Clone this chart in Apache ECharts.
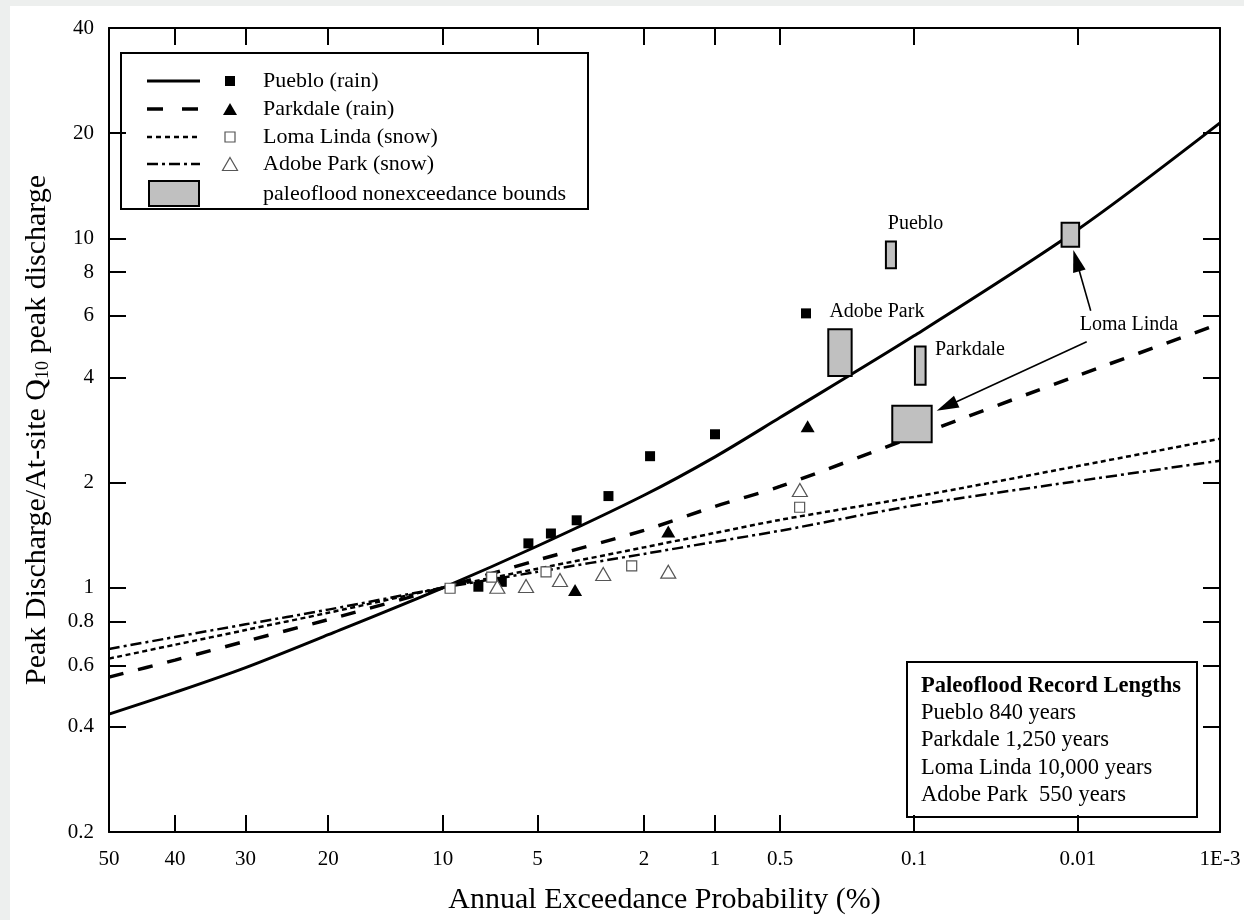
<!DOCTYPE html>
<html>
<head>
<meta charset="utf-8">
<script src="https://cdn.jsdelivr.net/npm/echarts/dist/echarts.min.js"></script>
<style>
html,body{margin:0;padding:0;background:#fff;}
#chart{width:1244px;height:920px;}
</style>
</head>
<body>
<div id="chart"></div>
<script>
// ---------------- DATA ----------------
const probTicks = [50, 40, 30, 20, 10, 5, 2, 1, 0.5, 0.1, 0.01, 0.001];
const probTickLabels = ['50', '40', '30', '20', '10', '5', '2', '1', '0.5', '0.1', '0.01', '1E-3'];
const valueTicks = [0.2, 0.4, 0.6, 0.8, 1, 2, 4, 6, 8, 10, 20, 40];
const valueTickLabels = ['0.2', '0.4', '0.6', '0.8', '1', '2', '4', '6', '8', '10', '20', '40'];

// fitted frequency curves (exceedance probability %, ratio to Q10)
const curveProbs = [50, 40, 30, 20, 10, 5, 2, 1, 0.5, 0.1, 0.01, 0.001];
const puebloCurve = [0.435, 0.502, 0.591, 0.734, 1.0, 1.317, 1.84, 2.37, 3.07, 5.26, 10.6, 21.4];
const parkdaleCurve = [0.555, 0.621, 0.703, 0.811, 1.0, 1.20, 1.46, 1.71, 1.95, 2.71, 4.05, 5.7];
const lomaLindaCurve = [0.627, 0.687, 0.757, 0.848, 1.0, 1.134, 1.305, 1.435, 1.564, 1.82, 2.23, 2.67];
const adobeParkCurve = [0.668, 0.723, 0.786, 0.866, 1.0, 1.111, 1.25, 1.354, 1.456, 1.72, 2.02, 2.31];

// observed peaks
const puebloObsProb = [7.81, 6.58, 5.37, 4.49, 3.63, 2.76, 1.89, 1.0, 0.373];
const puebloObsValue = [1.007, 1.04, 1.34, 1.43, 1.56, 1.83, 2.38, 2.75, 6.1];
const parkdaleObsProb = [3.68, 1.59, 0.366];
const parkdaleObsValue = [0.985, 1.45, 2.90];
const lomaLindaObsProb = [9.52, 7.09, 4.67, 2.24, 0.401];
const lomaLindaObsValue = [0.997, 1.072, 1.11, 1.155, 1.70];
const adobeParkObsProb = [6.8, 5.47, 4.17, 2.89, 1.59, 0.40];
const adobeParkObsValue = [1.007, 1.012, 1.053, 1.095, 1.112, 1.905];

// paleoflood nonexceedance bounds
const boxNames = ['Pueblo', 'Adobe Park', 'Parkdale', 'Loma Linda', 'Loma Linda'];
const boxProbHigh = [0.143, 0.288, 0.0988, 0.132, 0.01277];
const boxProbLow = [0.126, 0.218, 0.0860, 0.0794, 0.0098];
const boxValueLow = [8.21, 4.04, 3.81, 2.61, 9.47];
const boxValueHigh = [9.79, 5.49, 4.90, 3.32, 11.09];

// annotations
const noteTexts = ['Pueblo', 'Adobe Park', 'Parkdale', 'Loma Linda'];
const noteProbs = [0.098, 0.16, 0.076, 0.00451];
const noteValues = [11.0, 6.16, 4.79, 5.65];
const noteAlign = ['center', 'center', 'left', 'center'];

const arrowFromProb = [0.00821, 0.00873];
const arrowFromValue = [6.21, 5.06];
const arrowToProb = [0.0107, 0.0743];
const arrowToValue = [9.26, 3.21];

const legendNames = ['Pueblo (rain)', 'Parkdale (rain)', 'Loma Linda (snow)', 'Adobe Park (snow)', 'paleoflood nonexceedance bounds'];
const recordTitle = 'Paleoflood Record Lengths';
const recordLines = ['Pueblo 840 years', 'Parkdale 1,250 years', 'Loma Linda 10,000 years', 'Adobe Park  550 years'];

// ---------------- SCALE (normal probability) ----------------
function normInv(p) {
  const a = [-3.969683028665376e+01, 2.209460984245205e+02, -2.759285104469687e+02, 1.383577518672690e+02, -3.066479806614716e+01, 2.506628277459239e+00];
  const b = [-5.447609879822406e+01, 1.615858368580409e+02, -1.556989798598866e+02, 6.680131188771972e+01, -1.328068155288572e+01];
  const c = [-7.784894002430293e-03, -3.223964580411365e-01, -2.400758277161838e+00, -2.549732539343734e+00, 4.374664141464968e+00, 2.938163982698783e+00];
  const d = [7.784695709041462e-03, 3.224671290700398e-01, 2.445134137142996e+00, 3.754408661907416e+00];
  const plow = 0.02425, phigh = 1 - plow;
  let q, r;
  if (p < plow) {
    q = Math.sqrt(-2 * Math.log(p));
    return (((((c[0]*q+c[1])*q+c[2])*q+c[3])*q+c[4])*q+c[5]) / ((((d[0]*q+d[1])*q+d[2])*q+d[3])*q+1);
  }
  if (p <= phigh) {
    q = p - 0.5; r = q * q;
    return (((((a[0]*r+a[1])*r+a[2])*r+a[3])*r+a[4])*r+a[5])*q / (((((b[0]*r+b[1])*r+b[2])*r+b[3])*r+b[4])*r+1);
  }
  q = Math.sqrt(-2 * Math.log(1 - p));
  return -(((((c[0]*q+c[1])*q+c[2])*q+c[3])*q+c[4])*q+c[5]) / ((((d[0]*q+d[1])*q+d[2])*q+d[3])*q+1);
}
function toZ(pct) { return pct === 50 ? 0 : -normInv(pct / 100); }

const zTicks = probTicks.map(toZ);
const zMin = toZ(50), zMax = toZ(0.001);

function xLabel(v) {
  for (let i = 0; i < zTicks.length; i++) if (Math.abs(zTicks[i] - v) < 1e-6) return probTickLabels[i];
  return '';
}
function yLabel(v) {
  for (let i = 0; i < valueTicks.length; i++) if (Math.abs(valueTicks[i] - v) / valueTicks[i] < 1e-4) return valueTickLabels[i];
  return '';
}

const FONT = '"Liberation Serif", "Times New Roman", serif';

function pairs(ps, vs) { return ps.map((p, i) => [toZ(p), vs[i]]); }

const axisLineStyle = { color: '#000', width: 2 };
const tickStyle = { color: '#000', width: 2 };

function legendText(y, s) {
  return { type: 'text', x: 263, y: y, style: { text: s, font: '22px ' + FONT, fill: '#000', verticalAlign: 'middle', textVerticalAlign: 'middle' } };
}
function recText(y, s, bold) {
  return { type: 'text', x: 921, y: y, style: { text: s, font: (bold ? 'bold ' : '') + '22.5px ' + FONT, fill: '#000', verticalAlign: 'middle', textVerticalAlign: 'middle' } };
}

const option = {
  animation: false,
  backgroundColor: '#fff',
  grid: { left: 109, right: 24, top: 28, bottom: 88, containLabel: false },
  xAxis: [
    {
      type: 'value', min: zMin, max: zMax, position: 'bottom',
      axisLine: { onZero: false, lineStyle: axisLineStyle },
      axisTick: { show: true, inside: true, length: 17, lineStyle: tickStyle, customValues: zTicks },
      axisLabel: { show: true, customValues: zTicks, formatter: xLabel, margin: 17, color: '#000', fontFamily: FONT, fontSize: 21 },
      splitLine: { show: false },
      name: 'Annual Exceedance Probability (%)', nameLocation: 'middle', nameGap: 53,
      nameTextStyle: { fontFamily: FONT, fontSize: 30, color: '#000' }
    },
    {
      type: 'value', min: zMin, max: zMax, position: 'top',
      axisLine: { onZero: false, lineStyle: axisLineStyle },
      axisTick: { show: true, inside: true, length: 17, lineStyle: tickStyle, customValues: zTicks },
      axisLabel: { show: false, customValues: zTicks },
      splitLine: { show: false }
    }
  ],
  yAxis: [
    {
      type: 'log', logBase: 10, min: 0.2, max: 40, position: 'left',
      axisLine: { onZero: false, lineStyle: axisLineStyle },
      axisTick: { show: true, inside: true, length: 17, lineStyle: tickStyle, customValues: valueTicks },
      axisLabel: { show: true, customValues: valueTicks, formatter: yLabel, margin: 15, color: '#000', fontFamily: FONT, fontSize: 21 },
      splitLine: { show: false },
      name: 'Peak Discharge/At-site Q{sub|10} peak discharge', nameLocation: 'middle', nameGap: 57, nameRotate: 90,
      nameTextStyle: {
        fontFamily: FONT, fontSize: 30, color: '#000', lineHeight: 30,
        rich: { sub: { fontFamily: FONT, fontSize: 18, color: '#000', verticalAlign: 'bottom', padding: [19, 0, 0, 0] } }
      }
    },
    {
      type: 'log', logBase: 10, min: 0.2, max: 40, position: 'right',
      axisLine: { onZero: false, lineStyle: axisLineStyle },
      axisTick: { show: true, inside: true, length: 17, lineStyle: tickStyle, customValues: valueTicks },
      axisLabel: { show: false, customValues: valueTicks },
      splitLine: { show: false }
    }
  ],
  series: [
    { name: 'Pueblo curve', type: 'line', data: pairs(curveProbs, puebloCurve), showSymbol: false, smooth: 0.3,
      lineStyle: { color: '#000', width: 3, type: 'solid' }, z: 2 },
    { name: 'Parkdale curve', type: 'line', data: pairs(curveProbs, parkdaleCurve), showSymbol: false, smooth: 0.3,
      lineStyle: { color: '#000', width: 3.5, type: [15, 15] }, z: 2 },
    { name: 'Loma Linda curve', type: 'line', data: pairs(curveProbs, lomaLindaCurve), showSymbol: false, smooth: 0.3,
      lineStyle: { color: '#000', width: 2.5, type: [5, 3.5] }, z: 2 },
    { name: 'Adobe Park curve', type: 'line', data: pairs(curveProbs, adobeParkCurve), showSymbol: false, smooth: 0.3,
      lineStyle: { color: '#000', width: 2.5, type: [11, 4, 3, 4] }, z: 2 },

    { name: 'Pueblo (rain)', type: 'scatter', data: pairs(puebloObsProb, puebloObsValue), symbol: 'rect', symbolSize: 10,
      itemStyle: { color: '#000', opacity: 1 }, z: 4 },
    { name: 'Parkdale (rain)', type: 'scatter', data: pairs(parkdaleObsProb, parkdaleObsValue), symbol: 'triangle', symbolSize: [14, 12],
      itemStyle: { color: '#000', opacity: 1 }, z: 4 },
    { name: 'Loma Linda (snow)', type: 'scatter', data: pairs(lomaLindaObsProb, lomaLindaObsValue), symbol: 'rect', symbolSize: 10,
      itemStyle: { color: '#fff', borderColor: '#555', borderWidth: 1.2, opacity: 1 }, z: 4 },
    { name: 'Adobe Park (snow)', type: 'scatter', data: pairs(adobeParkObsProb, adobeParkObsValue), symbol: 'triangle', symbolSize: [15, 13],
      itemStyle: { color: '#fff', borderColor: '#555', borderWidth: 1.2, opacity: 1 }, z: 4 },

    { name: 'paleoflood boxes', type: 'custom', z: 5,
      data: boxNames.map((n, i) => [toZ(boxProbHigh[i]), toZ(boxProbLow[i]), boxValueLow[i], boxValueHigh[i]]),
      encode: { x: [0, 1], y: [2, 3] },
      renderItem: function (params, api) {
        const p1 = api.coord([api.value(0), api.value(2)]);
        const p2 = api.coord([api.value(1), api.value(3)]);
        return { type: 'rect',
          shape: { x: Math.min(p1[0], p2[0]), y: Math.min(p1[1], p2[1]), width: Math.abs(p2[0] - p1[0]), height: Math.abs(p2[1] - p1[1]) },
          style: { fill: '#c0c0c0', stroke: '#000', lineWidth: 2 } };
      }
    },
    { name: 'notes', type: 'custom', z: 6,
      data: noteTexts.map((t, i) => [toZ(noteProbs[i]), noteValues[i]]),
      encode: { x: 0, y: 1 },
      renderItem: function (params, api) {
        const p = api.coord([api.value(0), api.value(1)]);
        const i = params.dataIndex;
        return { type: 'text', x: p[0], y: p[1],
          style: { text: noteTexts[i], font: '20px ' + FONT, fill: '#000', align: noteAlign[i], verticalAlign: 'middle' } };
      }
    },
    { name: 'arrows', type: 'custom', z: 6,
      data: arrowFromProb.map((p, i) => [toZ(p), arrowFromValue[i], toZ(arrowToProb[i]), arrowToValue[i]]),
      encode: { x: [0, 2], y: [1, 3] },
      renderItem: function (params, api) {
        const a = api.coord([api.value(0), api.value(1)]);
        const b = api.coord([api.value(2), api.value(3)]);
        const dx = b[0] - a[0], dy = b[1] - a[1];
        const L = Math.sqrt(dx * dx + dy * dy);
        const ux = dx / L, uy = dy / L;
        const hl = 22, hw = 6.5;
        const bx = b[0] - ux * hl, by = b[1] - uy * hl;
        return { type: 'group', children: [
          { type: 'line', shape: { x1: a[0], y1: a[1], x2: bx + ux * 2, y2: by + uy * 2 }, style: { stroke: '#000', lineWidth: 1.6 } },
          { type: 'polygon', shape: { points: [[b[0], b[1]], [bx - uy * hw, by + ux * hw], [bx + uy * hw, by - ux * hw]] }, style: { fill: '#000' } }
        ] };
      }
    }
  ],
  graphic: [
    // faint scan margins
    { type: 'rect', x: 0, y: 0, shape: { x: 0, y: 0, width: 1244, height: 6 }, style: { fill: '#edefee' }, z: 0, silent: true },
    { type: 'rect', x: 0, y: 0, shape: { x: 0, y: 0, width: 10, height: 920 }, style: { fill: '#edefee' }, z: 0, silent: true },
    // legend box
    { type: 'group', x: 0, y: 0, z: 100, children: [
      { type: 'rect', shape: { x: 121, y: 53, width: 467, height: 156 }, style: { fill: '#fff', stroke: '#000', lineWidth: 2 } },
      { type: 'line', shape: { x1: 147, y1: 81, x2: 200, y2: 81 }, style: { stroke: '#000', lineWidth: 3 } },
      { type: 'line', shape: { x1: 147, y1: 109, x2: 200, y2: 109 }, style: { stroke: '#000', lineWidth: 3.5, lineDash: [16, 19] } },
      { type: 'line', shape: { x1: 147, y1: 137, x2: 200, y2: 137 }, style: { stroke: '#000', lineWidth: 2.5, lineDash: [5, 4] } },
      { type: 'line', shape: { x1: 147, y1: 164, x2: 200, y2: 164 }, style: { stroke: '#000', lineWidth: 2.5, lineDash: [11, 4, 3, 4] } },
      { type: 'rect', shape: { x: 225, y: 76, width: 10, height: 10 }, style: { fill: '#000' } },
      { type: 'polygon', shape: { points: [[230, 103], [237, 115], [223, 115]] }, style: { fill: '#000' } },
      { type: 'rect', shape: { x: 225, y: 132, width: 10, height: 10 }, style: { fill: '#fff', stroke: '#555', lineWidth: 1.2 } },
      { type: 'polygon', shape: { points: [[230, 157.5], [237.5, 170.5], [222.5, 170.5]] }, style: { fill: '#fff', stroke: '#555', lineWidth: 1.2 } },
      { type: 'rect', shape: { x: 149, y: 181, width: 50, height: 25 }, style: { fill: '#c0c0c0', stroke: '#000', lineWidth: 2 } },
      legendText(81, legendNames[0]),
      legendText(109, legendNames[1]),
      legendText(137, legendNames[2]),
      legendText(164, legendNames[3]),
      legendText(194, legendNames[4])
    ] },
    // record lengths box
    { type: 'group', x: 0, y: 0, z: 100, children: [
      { type: 'rect', shape: { x: 907, y: 662, width: 290, height: 155 }, style: { fill: '#fff', stroke: '#000', lineWidth: 2 } },
      recText(686, recordTitle, true),
      recText(713, recordLines[0]),
      recText(740, recordLines[1]),
      recText(768, recordLines[2]),
      recText(795, recordLines[3])
    ] }
  ]
};

const chart = echarts.init(document.getElementById('chart'), null, { renderer: 'canvas', width: 1244, height: 920 });
chart.setOption(option);
</script>
</body>
</html>
